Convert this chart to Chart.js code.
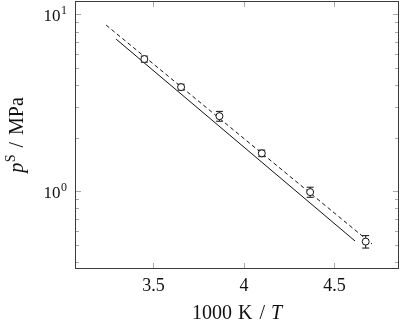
<!DOCTYPE html>
<html>
<head>
<meta charset="utf-8">
<script src="https://cdn.jsdelivr.net/npm/chart.js@4/dist/chart.umd.min.js"></script>
<style>
    html, body { margin: 0; padding: 0; background: #fff; }
</style>
</head>
<body>
<canvas id="chart" width="400" height="328"></canvas>
<script>
// measured points (1000 K / T, saturation pressure in MPa)
const invT = [3.450, 3.653, 3.865, 4.099, 4.366, 4.673];
const pSat = [5.59, 3.88, 2.66, 1.64, 0.99, 0.52];
const pErr = [0.22, 0.15, 0.17, 0.07, 0.065, 0.042];

// correlation lines (endpoints)
const solidX = [3.294, 4.614];
const solidY = [7.25, 0.524];
const dashX = [3.239, 4.708];
const dashY = [8.70, 0.504];

// axis ticks
const xTicks = [3.5, 4, 4.5];
const yMajor = [1, 10];
const yMinor = [0.4, 0.5, 0.6, 0.7, 0.8, 0.9, 2, 3, 4, 5, 6, 7, 8, 9];

const SERIF = "'Liberation Serif', 'DejaVu Serif', serif";
const INK = "#111";

function pts(xs, ys) {
    return xs.map((v, i) => ({x: v, y: ys[i]}));
}

// draws a row of text pieces (font, text, dy, gap after) centred on cx
function drawPieces(ctx, pieces, cx, baseY) {
    let total = 0;
    pieces.forEach(p => {
        ctx.font = p.font;
        p.w = ctx.measureText(p.t).width + (p.gap || 0);
        total += p.w;
    });
    let xPos = cx - total / 2;
    pieces.forEach(p => {
        ctx.font = p.font;
        ctx.fillText(p.t, xPos, baseY + (p.dy || 0));
        xPos += p.w;
    });
}

const framePlugin = {
    id: "frame",
    beforeDatasetsDraw(chart) {
        const {ctx, scales: {x, y}} = chart;
        // error bars
        ctx.save();
        ctx.strokeStyle = INK;
        ctx.lineWidth = 1;
        invT.forEach((t, i) => {
            const px = x.getPixelForValue(t);
            const top = y.getPixelForValue(pSat[i] + pErr[i]);
            const bot = y.getPixelForValue(pSat[i] - pErr[i]);
            ctx.beginPath();
            ctx.moveTo(px, top); ctx.lineTo(px, bot);
            ctx.moveTo(px - 3.5, top); ctx.lineTo(px + 3.5, top);
            ctx.moveTo(px - 3.5, bot); ctx.lineTo(px + 3.5, bot);
            ctx.stroke();
        });
        ctx.restore();
    },
    afterDraw(chart) {
        const {ctx, chartArea: a, scales: {x, y}} = chart;
        ctx.save();
        // inward ticks
        ctx.strokeStyle = "#a8a8a8";
        ctx.lineWidth = 1;
        ctx.beginPath();
        xTicks.forEach(v => {
            const px = Math.round(x.getPixelForValue(v)) + 0.5;
            ctx.moveTo(px, a.bottom); ctx.lineTo(px, a.bottom - 6);
            ctx.moveTo(px, a.top); ctx.lineTo(px, a.top + 6);
        });
        yMajor.forEach(v => {
            const py = Math.round(y.getPixelForValue(v)) + 0.5;
            ctx.moveTo(a.left, py); ctx.lineTo(a.left + 6, py);
            ctx.moveTo(a.right, py); ctx.lineTo(a.right - 6, py);
        });
        yMinor.forEach(v => {
            const py = Math.round(y.getPixelForValue(v)) + 0.5;
            ctx.moveTo(a.left, py); ctx.lineTo(a.left + 4, py);
            ctx.moveTo(a.right, py); ctx.lineTo(a.right - 4, py);
        });
        ctx.stroke();

        // frame
        ctx.strokeStyle = "#3a3a3a";
        ctx.strokeRect(a.left + 0.5, a.top + 0.5, a.right - a.left - 1, a.bottom - a.top - 1);

        // y tick labels 10^n
        ctx.fillStyle = INK;
        ctx.textAlign = "left";
        ctx.textBaseline = "alphabetic";
        yMajor.forEach(v => {
            const py = y.getPixelForValue(v);
            const exp = String(Math.round(Math.log10(v)));
            ctx.font = "12px " + SERIF;
            const ew = ctx.measureText(exp).width;
            ctx.font = "17px " + SERIF;
            const bw = ctx.measureText("10").width;
            const right = a.left - 8;
            ctx.fillText("10", right - ew - bw - 0.5, py + 7);
            ctx.font = "12px " + SERIF;
            ctx.fillText(exp, right - ew, py - 0.5);
        });

        // x axis title
        drawPieces(ctx, [
            {t: "1000", font: "20px " + SERIF, gap: 6},
            {t: "K", font: "20px " + SERIF, gap: 7},
            {t: "/", font: "20px " + SERIF, gap: 6},
            {t: "T", font: "italic 20px " + SERIF}
        ], (a.left + a.right) / 2, 319);

        // y axis title
        ctx.translate(23, (a.top + a.bottom) / 2);
        ctx.rotate(-Math.PI / 2);
        drawPieces(ctx, [
            {t: "p", font: "italic 20px " + SERIF, gap: 0.5},
            {t: "S", font: "14px " + SERIF, dy: -8, gap: 7},
            {t: "/", font: "20px " + SERIF, gap: 7},
            {t: "MPa", font: "20px " + SERIF}
        ], 0, 0);
        ctx.restore();
    }
};

new Chart(document.getElementById("chart"), {
    type: "line",
    data: {
        datasets: [
            {
                label: "data",
                data: pts(invT, pSat),
                showLine: false,
                pointRadius: 3.5,
                pointBorderWidth: 1,
                pointBorderColor: INK,
                pointBackgroundColor: "#fff",
            },
            {
                label: "solid",
                data: pts(solidX, solidY),
                borderColor: INK,
                borderWidth: 1,
                pointRadius: 0,
            },
            {
                label: "dashed",
                data: pts(dashX, dashY),
                borderColor: INK,
                borderWidth: 1,
                borderDash: [4, 3],
                pointRadius: 0,
            },
        ]
    },
    options: {
        responsive: false,
        animation: false,
        devicePixelRatio: 1,
        layout: {autoPadding: false, padding: {top: 1, right: 1, left: 0, bottom: 0}},
        plugins: {
            legend: {display: false},
            tooltip: {enabled: false},
        },
        scales: {
            x: {
                type: "linear",
                min: 3.067,
                max: 4.857,
                grid: {display: false, drawTicks: false},
                border: {display: false},
                afterBuildTicks: s => { s.ticks = xTicks.map(v => ({value: v})); },
                afterFit: s => { s.height = 59; s.paddingLeft = 0; s.paddingRight = 0; },
                ticks: {
                    padding: 6,
                    color: INK,
                    font: {family: SERIF, size: 18},
                    maxRotation: 0,
                    callback: v => String(v),
                },
            },
            y: {
                type: "logarithmic",
                min: 0.364,
                max: 11.9,
                grid: {display: false, drawTicks: false},
                border: {display: false},
                ticks: {display: false},
                afterFit: s => { s.width = 75; },
            },
        },
    },
    plugins: [framePlugin],
});
</script>
</body>
</html>
